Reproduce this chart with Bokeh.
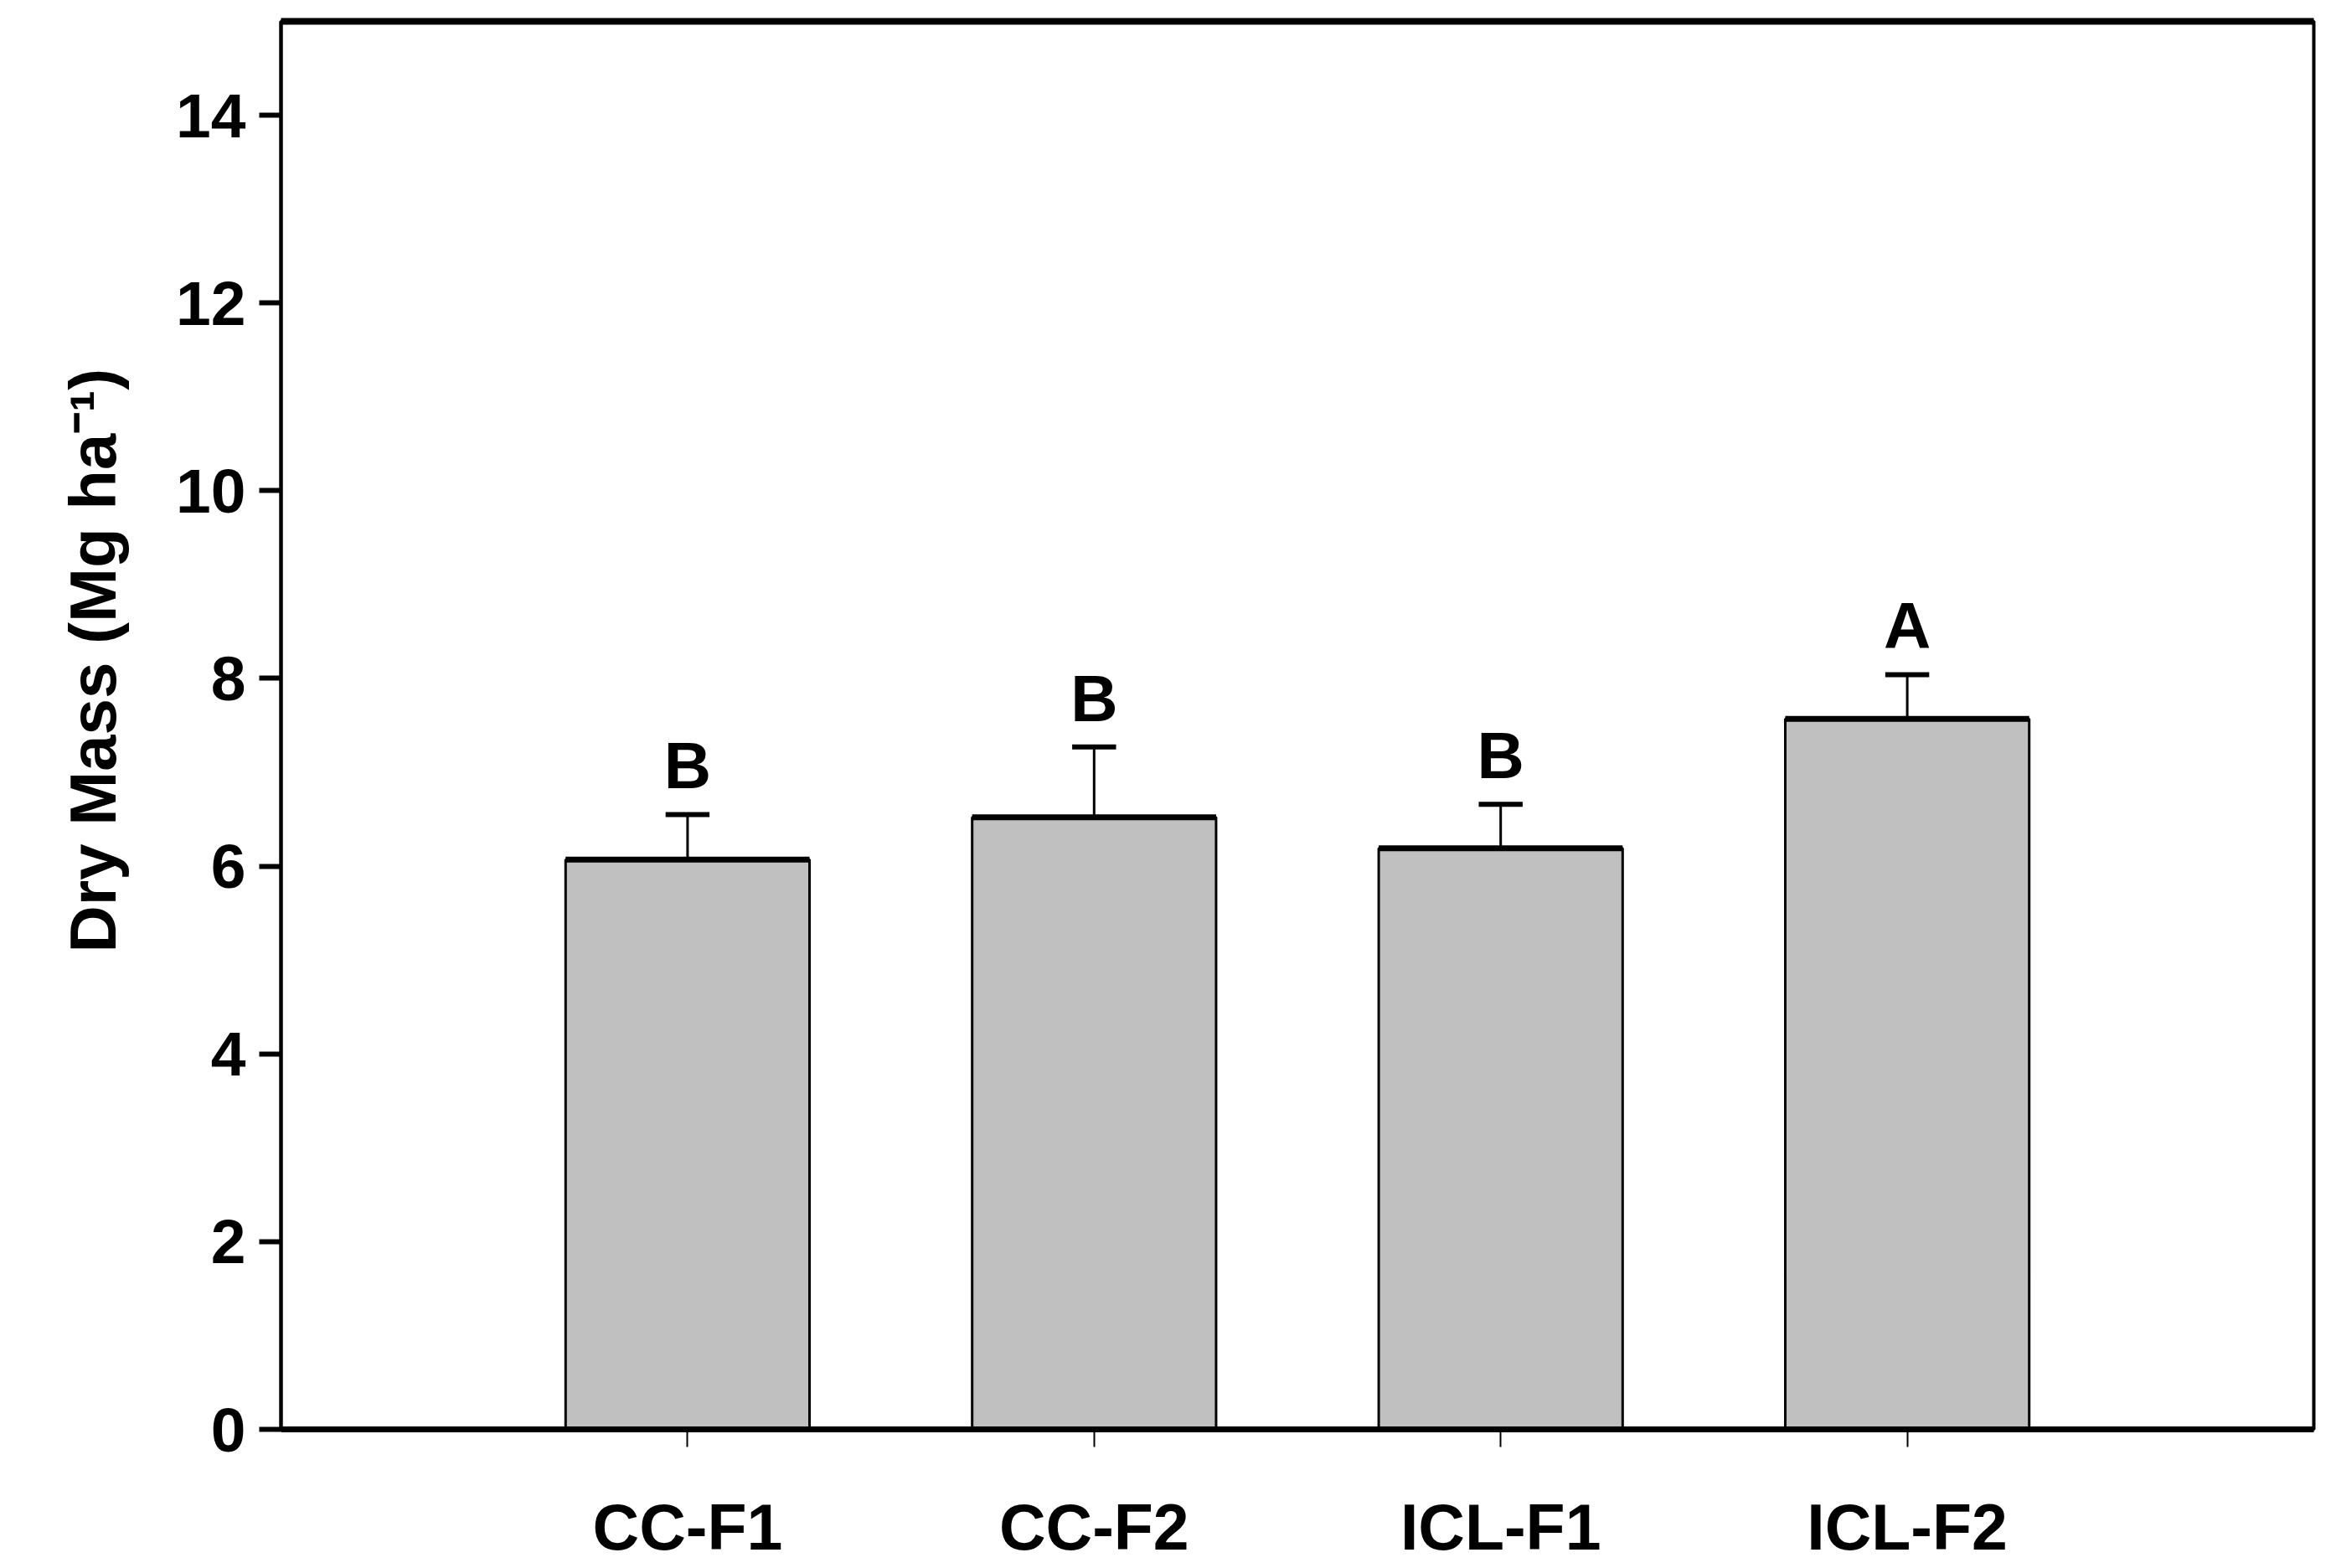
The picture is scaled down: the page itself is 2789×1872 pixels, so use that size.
from bokeh.plotting import figure
from bokeh.models import ColumnDataSource, FixedTicker, LinearAxis, Range1d, Title
from bokeh.embed import file_html
from bokeh.resources import INLINE
from bokeh.core.properties import value

# ---- data ----
categories = ["CC-F1", "CC-F2", "ICL-F1", "ICL-F2"]
means = [6.07, 6.52, 6.19, 7.57]
errors = [0.48, 0.75, 0.47, 0.47]
letters = ["B", "B", "B", "A"]
y_ticks = [0, 2, 4, 6, 8, 10, 12, 14]
y_label = "Dry Mass (Mg ha\u207b\u00b9)"

# ---- style constants ----
positions = [i + 1 for i in range(len(categories))]
BAR_W = 0.6
CAP_HALF = 0.054
LETTER_GAP = 0.52          # gap (in y units) between error cap and letter centre
FONT = "Liberation Sans"

src = ColumnDataSource(dict(
    x=positions,
    top=means,
    upper=[m + e for m, e in zip(means, errors)],
    lety=[m + e + LETTER_GAP for m, e in zip(means, errors)],
    left=[x - BAR_W / 2 for x in positions],
    right=[x + BAR_W / 2 for x in positions],
    cl=[x - CAP_HALF for x in positions],
    cr=[x + CAP_HALF for x in positions],
    letter=letters,
))

p = figure(width=2773, height=1868, output_backend="svg", toolbar_location=None,
           x_range=Range1d(0, len(categories) + 1), y_range=Range1d(0, 15),
           min_border_left=335, min_border_top=25, min_border_right=11, min_border_bottom=161)

p.background_fill_color = "white"
p.border_fill_color = "white"
p.grid.visible = False
p.outline_line_color = "black"
p.outline_line_width = 4

# bars
p.vbar(x="x", top="top", bottom=0, width=BAR_W, source=src,
       fill_color="#c0c0c0", line_color="black", line_width=3)
p.segment(x0="left", x1="right", y0="top", y1="top", source=src,
          line_color="black", line_width=7)

# error bars
p.segment(x0="x", x1="x", y0="top", y1="upper", source=src,
          line_color="black", line_width=3)
p.segment(x0="cl", x1="cr", y0="upper", y1="upper", source=src,
          line_color="black", line_width=6)

# significance letters
p.text(x="x", y="lety", text="letter", source=src,
       text_font=value(FONT), text_font_style="bold", text_font_size="78px",
       text_align="center", text_baseline="alphabetic",
       text_color="black")

# x axis
xa = p.xaxis[0]
xa.ticker = FixedTicker(ticks=positions)
xa.major_label_overrides = {pos: c for pos, c in zip(positions, categories)}
xa.axis_line_width = 7
xa.axis_line_color = "black"
xa.major_tick_out = 21
xa.major_tick_in = 0
xa.major_tick_line_width = 2
xa.minor_tick_line_color = None
xa.major_label_standoff = 52
xa.major_label_text_font = FONT
xa.major_label_text_font_style = "bold"
xa.major_label_text_font_size = "77px"
xa.major_label_text_color = "black"

# y axis
ya = p.yaxis[0]
ya.ticker = FixedTicker(ticks=y_ticks)
ya.axis_line_width = 4
ya.axis_line_color = "black"
ya.major_tick_out = 26
ya.major_tick_in = 0
ya.major_tick_line_width = 6
ya.minor_tick_line_color = None
ya.major_label_standoff = 16
ya.major_label_text_font = FONT
ya.major_label_text_font_style = "bold"
ya.major_label_text_font_size = "75px"
ya.major_label_text_color = "black"

# y-axis title, shifted toward the top as in the original
ytitle = Title(text=y_label, align="left", offset=569, standoff=105,
               text_font=FONT, text_font_style="bold", text_font_size="78px",
               text_color="black")
p.add_layout(ytitle, "left")

# thick top frame line
top_axis = LinearAxis(ticker=FixedTicker(ticks=[]), axis_line_width=8, axis_line_color="black",
                      major_tick_out=0, major_tick_in=0, minor_tick_out=0, minor_tick_in=0,
                      major_label_text_font_size="0px")
p.add_layout(top_axis, "above")

open("out.html", "w").write(file_html(p, INLINE))
